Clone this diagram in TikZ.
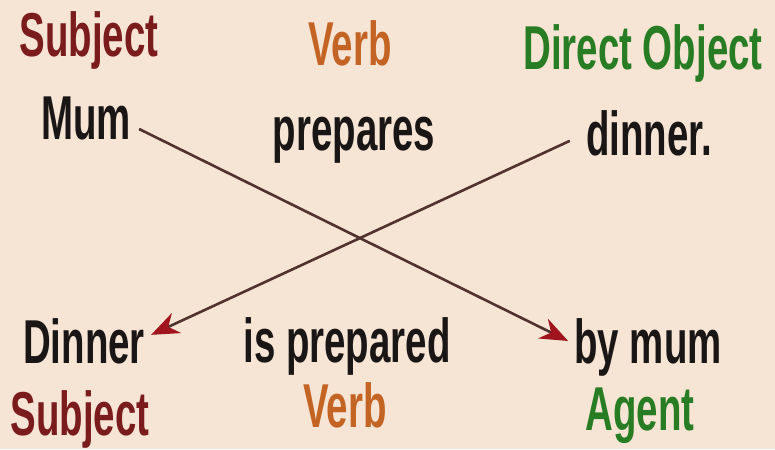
\documentclass[tikz,border=0pt]{standalone}
\usepackage{fontspec}
\setmainfont{Liberation Sans}[FakeStretch=0.62]
\usetikzlibrary{arrows.meta}
\definecolor{bgpeach}{RGB}{246,228,212}
\definecolor{subjred}{RGB}{122,28,30}
\definecolor{verborange}{RGB}{196,100,36}
\definecolor{objgreen}{RGB}{40,125,36}
\definecolor{wordblack}{RGB}{26,22,22}
\definecolor{linebrown}{RGB}{80,50,46}
\definecolor{tipred}{RGB}{160,20,30}
\tikzset{
  word/.style={inner sep=0pt, anchor=base, text=wordblack, font=\fontsize{62}{70}\selectfont\bfseries},
  lab/.style={inner sep=0pt, anchor=base, font=\fontsize{62}{70}\selectfont\bfseries},
  subjlab/.style={lab, text=subjred},
  verblab/.style={lab, text=verborange},
  objlab/.style={lab, text=objgreen},
  conn/.style={draw=linebrown, line width=2.6pt,
    -{Stealth[length=28pt,width=22pt,color=tipred,fill=tipred]}}
}
\begin{document}
\begin{tikzpicture}[x=1pt,y=-1pt]
\fill[bgpeach] (0,0) rectangle (775,449);
\useasboundingbox (0,0) rectangle (775,449);
% top row labels
\node[subjlab] (subjT) at (89,57) {Subject};
\node[verblab] (verbT) at (350,66) {Verb};
\node[objlab] (objT) at (643,70) {Direct Object};
% active sentence
\node[word] (mum) at (86,140) {Mum};
\node[word] (prepares) at (354,150) {prepares};
\node[word] (dinnerT) at (649,155) {dinner.};
% passive sentence
\node[word] (dinnerB) at (84,363) {Dinner};
\node[word] (isprep) at (347,362) {is prepared};
\node[word] (bymum) at (648,363) {by mum};
% bottom labels
\node[subjlab] (subjB) at (80,435) {Subject};
\node[verblab] (verbB) at (345,427) {Verb};
\node[objlab] (agent) at (640,430) {Agent};
% connectors
\draw[conn] ([xshift=8pt,yshift=-10pt]mum.east) -- ([xshift=-6pt,yshift=6pt]bymum.west);
\draw[conn] ([xshift=-16pt,yshift=-8pt]dinnerT.west) -- ([xshift=6pt,yshift=6pt]dinnerB.east);
\end{tikzpicture}
\end{document}
